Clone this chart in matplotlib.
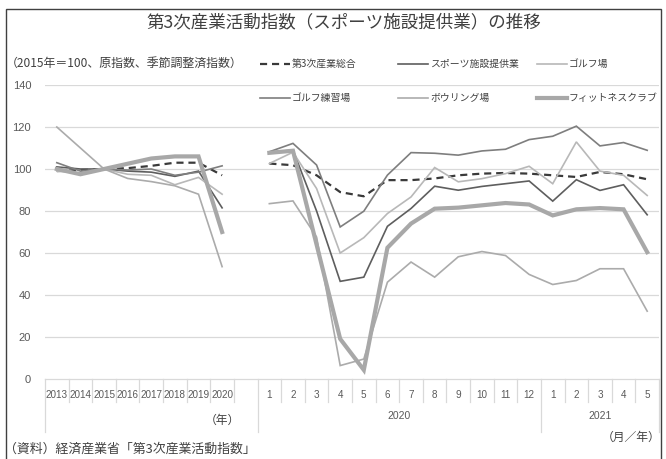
import numpy as np
import matplotlib
matplotlib.use("Agg")
import matplotlib.pyplot as plt
from matplotlib import transforms
from matplotlib.lines import Line2D
from matplotlib.patches import Rectangle

plt.rcParams['font.family'] = ['Noto Sans CJK JP', 'DejaVu Sans']

# ---- data -------------------------------------------------------------
years = ["2013", "2014", "2015", "2016", "2017", "2018", "2019", "2020"]
months = ["1", "2", "3", "4", "5", "6", "7", "8", "9", "10", "11", "12",
          "1", "2", "3", "4", "5"]

series_names = ["第3次産業総合", "スポーツ施設提供業", "ゴルフ場",
                "ゴルフ練習場", "ボウリング場", "フィットネスクラブ"]

# annual values (2015 = 100)
total_annual = [99.0, 99.5, 100.0, 100.4, 101.5, 103.0, 103.0, 97.0]
sports_annual = [101.0, 100.0, 100.0, 99.0, 98.5, 96.5, 99.0, 81.5]
golf_course_annual = [99.0, 98.0, 100.0, 97.5, 97.0, 92.5, 96.0, 88.0]
golf_range_annual = [103.0, 99.0, 100.0, 99.5, 100.0, 97.0, 98.5, 101.5]
bowling_annual = [120.0, 110.0, 100.0, 95.5, 94.0, 92.0, 88.0, 53.5]
fitness_annual = [100.0, 97.5, 100.0, 102.5, 105.0, 106.0, 106.0, 70.0]

# monthly, seasonally adjusted (2020/1 - 2021/5)
total_monthly = [102.6, 101.8, 97.0, 89.0, 87.0, 94.7, 94.7, 95.5, 97.0,
                 97.8, 98.1, 97.8, 97.0, 96.2, 98.6, 97.5, 95.1]
sports_monthly = [108.0, 109.0, 80.0, 46.5, 48.5, 72.7, 81.2, 91.8, 89.9,
                  91.7, 93.0, 94.3, 84.7, 94.9, 89.8, 92.5, 78.2]
golf_course_monthly = [102.6, 108.0, 90.7, 60.0, 67.3, 78.8, 86.7, 100.7, 93.9,
                       95.4, 97.8, 101.3, 93.0, 112.9, 99.0, 97.0, 87.4]
golf_range_monthly = [108.2, 112.2, 101.9, 72.4, 79.9, 97.1, 107.8, 107.5, 106.6,
                      108.6, 109.4, 114.0, 115.6, 120.4, 111.0, 112.6, 108.9]
bowling_monthly = [83.5, 84.8, 67.6, 6.4, 9.5, 46.1, 55.7, 48.5, 58.2,
                   60.7, 58.8, 49.8, 45.0, 46.9, 52.5, 52.5, 32.3]
fitness_monthly = [107.7, 108.7, 64.0, 19.1, 4.3, 62.5, 74.0, 81.1, 81.6,
                   82.7, 83.8, 83.1, 77.9, 80.8, 81.4, 80.8, 60.4]

yticks = [0, 20, 40, 60, 80, 100, 120, 140]

# ---- layout helpers (pixel -> figure fraction) ---------------------------
W, H = 666, 459
def fx(x):
    return x / W
def fy(y):
    return 1 - y / H

NUM_FONT = ["Liberation Sans", "DejaVu Sans"]
TXT = "#404040"
TICK = "#595959"

fig = plt.figure(figsize=(W / 100, H / 100), dpi=100)
ax = fig.add_axes([fx(45), fy(379), (659 - 45) / W, (379 - 85) / H])

annual_data = [total_annual, sports_annual, golf_course_annual,
               golf_range_annual, bowling_annual, fitness_annual]
monthly_data = [total_monthly, sports_monthly, golf_course_monthly,
                golf_range_monthly, bowling_monthly, fitness_monthly]

styles = [
    dict(color="#3a3a3a", lw=1.6, ls=(0, (3.2, 2.2))),
    dict(color="#5e5e5e", lw=1.2, ls="-"),
    dict(color="#b8b8b8", lw=1.2, ls="-"),
    dict(color="#7e7e7e", lw=1.2, ls="-"),
    dict(color="#ababab", lw=1.2, ls="-"),
    dict(color="#a8a8a8", lw=3.0, ls="-"),
]

categories = years + [""] + months
n_cat = len(categories)
xpos = np.arange(n_cat)

for ann, mon, st in zip(annual_data, monthly_data, styles):
    vals = np.array(list(ann) + [np.nan] + list(mon), dtype=float)
    ax.plot(xpos, vals, color=st["color"], lw=st["lw"], linestyle=st["ls"],
            solid_joinstyle="miter", zorder=3)

ax.set_xlim(-0.5, n_cat - 0.5)
ax.set_ylim(0, 140)
for s in ["top", "right", "left"]:
    ax.spines[s].set_visible(False)
ax.spines["bottom"].set_color("#d9d9d9")
ax.spines["bottom"].set_linewidth(0.9)
ax.set_yticks(yticks)
ax.set_yticklabels([str(v) for v in yticks], fontsize=8, color=TICK,
                   family=NUM_FONT)
ax.tick_params(axis="y", length=0, pad=10)
ax.set_xticks([])
for v in yticks[1:]:
    ax.axhline(v, color="#d9d9d9", lw=0.9, zorder=1)

# ---- category axis: labels and separators -------------------------------
trans = transforms.blended_transform_factory(ax.transData, fig.transFigure)
for i, lab in enumerate(categories):
    if lab:
        ax.text(i, fy(395), lab, transform=trans, ha="center", va="center",
                fontsize=7.1, color=TICK, family=NUM_FONT)

long_bounds = {-0.5, len(years) + 0.5, len(years) + 12.5, n_cat - 0.5}
for b in np.arange(-0.5, n_cat, 1.0):
    bottom = 432 if b in long_bounds else 402
    ax.plot([b, b], [fy(379), fy(bottom)], transform=trans, color="#d9d9d9",
            lw=0.9, clip_on=False)

ax.text(len(years) - 1, fy(420), "（年）", transform=trans, ha="center",
        va="center", fontsize=8.5, color=TXT)
ax.text((len(years) + 0.5 + len(years) + 12.5) / 2, fy(416), "2020",
        transform=trans, ha="center", va="center", fontsize=7.5,
        color=TICK, family=NUM_FONT)
ax.text((len(years) + 12.5 + n_cat - 0.5) / 2, fy(416), "2021",
        transform=trans, ha="center", va="center", fontsize=7.5,
        color=TICK, family=NUM_FONT)

# ---- titles, notes ------------------------------------------------------
fig.text(fx(344), fy(22), "第3次産業活動指数（スポーツ施設提供業）の推移",
         ha="center", va="center", fontsize=12.6, color=TXT)
fig.text(fx(6), fy(63), "（2015年＝100、原指数、季節調整済指数）",
         ha="left", va="center", fontsize=8.6, color=TXT)
fig.text(fx(660), fy(437), "（月／年）", ha="right", va="center",
         fontsize=8.5, color=TXT)
fig.text(fx(4), fy(449), "（資料）経済産業省「第3次産業活動指数」",
         ha="left", va="center", fontsize=9.3, color=TXT)

# ---- legend -------------------------------------------------------------
legend_slots = [(260, 64), (398, 64), (537, 64), (260, 98), (398, 98), (537, 98)]
for name, st, (lx, ly) in zip(series_names, styles, legend_slots):
    fig.add_artist(Line2D([fx(lx), fx(lx + 30)], [fy(ly), fy(ly)],
                          color=st["color"], lw=st["lw"], linestyle=st["ls"]))
    fig.text(fx(lx + 32), fy(ly), name, ha="left", va="center",
             fontsize=7.1, color=TXT)

# ---- outer frame ----------------------------------------------------------
fig.add_artist(Rectangle((fx(6), fy(470)), fx(661) - fx(6), fy(9) - fy(470),
                         transform=fig.transFigure, fill=False,
                         edgecolor="#404040", lw=1.0, clip_on=False))

fig.savefig("out.png", dpi=100)
